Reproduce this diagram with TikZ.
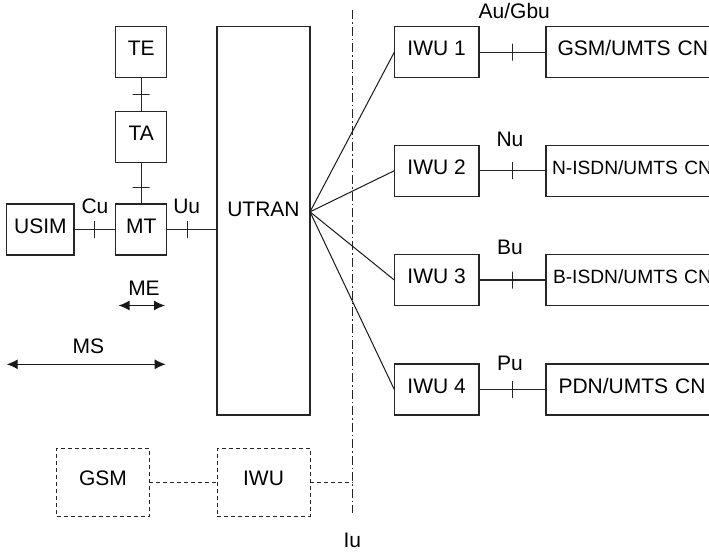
\documentclass[tikz,border=0pt]{standalone}
\usepackage{fontspec}
\setmainfont{Liberation Sans}
\usetikzlibrary{arrows.meta}
\begin{document}
\begin{tikzpicture}[x=1pt,y=-1pt,
  every node/.style={inner sep=0pt,outer sep=0pt,font=\fontsize{21}{24}\selectfont,text height=0.72em,text depth=0pt},
  ln/.style={line width=1.2pt,draw=black!85},
  box/.style={ln,draw,rectangle},
  dbox/.style={draw=black!85,line width=1pt,dash pattern=on 4pt off 3pt,rectangle},
  dline/.style={draw=black!85,line width=1pt,dash pattern=on 4pt off 3pt},
  vtick/.style={draw=black!85,line width=1.2pt,minimum width=0pt,minimum height=17pt,text height=0pt,text depth=0pt},
  htick/.style={draw=black!85,line width=1.2pt,minimum height=0pt,minimum width=17pt,text height=0pt,text depth=0pt},
  lbl/.style={},
  smallf/.style={font=\fontsize{19.2}{22}\selectfont},
  darr/.style={line width=1.2pt,draw=black!90,{Latex[length=11pt,width=10pt]}-{Latex[length=11pt,width=10pt]}}
]
\useasboundingbox (0,0) rectangle (709,555);
\clip (0,0) rectangle (709,555);

% left side boxes
\node[box,minimum width=51pt,minimum height=51pt] (te) at (141.2,52.2) {TE};
\node[box,minimum width=51pt,minimum height=51pt] (ta) at (141.2,136.7) {TA};
\node[box,minimum width=51pt,minimum height=51pt] (mt) at (141.2,229.5) {MT};
\node[box,minimum width=67.3pt,minimum height=51pt] (usim) at (40.35,229.5) {USIM};
\node[box,minimum width=93pt,minimum height=388.3pt,label={[yshift=8pt]center:UTRAN}] (utran) at (263.5,220.85) {};

% connectors with ticks
\draw[ln] (te.south) -- node[pos=0.5,htick]{} (ta.north);
\draw[ln] (ta.south) -- node[pos=0.6,htick]{} (mt.north);
\draw[ln] (usim.east) -- node[pos=0.49,vtick]{} (mt.west);
\coordinate (uin) at (utran.west |- mt.east);
\draw[ln] (mt.east) -- node[pos=0.42,vtick]{} (uin);

\node[lbl] (cu) at (95,210) {Cu};
\node[lbl] (uu) at (186.7,210) {Uu};

% ME, MS arrows
\coordinate (mea) at (118.5,305.5);
\coordinate (meb) at (165,305.5);
\draw[darr] (mea) -- (meb);
\node[lbl] (me) at (144,291.7) {ME};
\coordinate (msa) at (6.7,364.3);
\coordinate (msb) at (165.7,364.3);
\draw[darr] (msa) -- (msb);
\node[lbl] (ms) at (88.3,350.3) {MS};

% Iu dash-dot line
\coordinate (iutop) at (352.3,10);
\coordinate (iubot) at (352.3,513.3);
\draw[draw=black!85,line width=1pt,dash pattern=on 9pt off 3pt on 1.5pt off 3pt] (iutop) -- (iubot);
\node[lbl] (iu) at (352.3,543.5) {Iu};

% IWU boxes
\node[box,minimum width=84.7pt,minimum height=51pt] (iwu1) at (436.65,52.2) {IWU 1};
\node[box,minimum width=84.7pt,minimum height=51pt] (iwu2) at (436.65,170.7) {IWU 2};
\node[box,minimum width=84.7pt,minimum height=51pt] (iwu3) at (436.65,280) {IWU 3};
\node[box,minimum width=84.7pt,minimum height=51pt] (iwu4) at (436.65,389.5) {IWU 4};

% CN boxes (cut by right border)
\node[box,minimum width=214pt,minimum height=51pt,text width=214pt,align=left] (cn1) at (653,52.2) {\hspace{11.5pt}GSM/UMTS CN};
\node[box,minimum width=214pt,minimum height=51pt,text width=214pt,align=left,smallf] (cn2) at (653,170.7) {\hspace{6pt}N-ISDN/UMTS CN};
\node[box,minimum width=214pt,minimum height=51pt,text width=214pt,align=left,smallf] (cn3) at (653,280) {\hspace{7pt}B-ISDN/UMTS CN};
\node[box,minimum width=214pt,minimum height=51pt,text width=214pt,align=left] (cn4) at (653,389.5) {\hspace{12.5pt}PDN/UMTS CN};

\draw[ln] (iwu1.east) -- node[pos=0.5,vtick]{} (cn1.west);
\draw[ln] (iwu2.east) -- node[pos=0.5,vtick]{} (cn2.west);
\draw[ln] (iwu3.east) -- node[pos=0.5,vtick]{} (cn3.west);
\draw[ln] (iwu4.east) -- node[pos=0.5,vtick]{} (cn4.west);

\node[lbl] (augbu) at (514.3,14.5) {Au/Gbu};
\node[lbl] (nu) at (510,143) {Nu};
\node[lbl] (bu) at (510,250.5) {Bu};
\node[lbl] (pu) at (510,366.7) {Pu};

% fan from UTRAN
\coordinate (fan) at ([yshift=9pt]utran.east);
\draw[line width=1pt,draw=black!90] (fan) -- (iwu1.west);
\draw[line width=1pt,draw=black!90] (fan) -- (iwu2.west);
\draw[line width=1pt,draw=black!90] (fan) -- (iwu3.west);
\draw[line width=1pt,draw=black!90] (fan) -- (iwu4.west);

% GSM / IWU dashed
\node[dbox,minimum width=92.6pt,minimum height=67.7pt] (gsm) at (103,482.2) {GSM};
\node[dbox,minimum width=93pt,minimum height=67.7pt] (iwu) at (263.5,482.2) {IWU};
\draw[dline] (gsm.east) -- (iwu.west);
\coordinate (iwuend) at (iutop |- iwu.east);
\draw[dline] (iwu.east) -- (iwuend);
\end{tikzpicture}
\end{document}
